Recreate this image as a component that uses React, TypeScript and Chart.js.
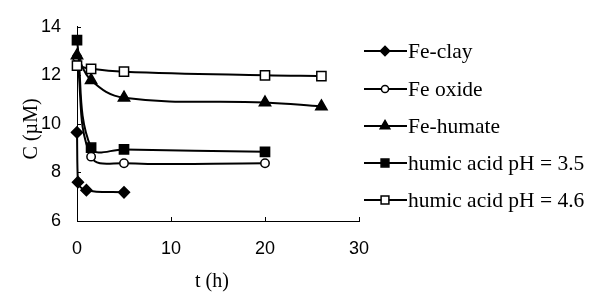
import React, { useEffect, useRef } from "react";
import { Chart, registerables } from "chart.js";

Chart.register(...registerables);

const seriesNames = ["Fe-clay", "Fe oxide", "Fe-humate", "humic acid pH = 3.5", "humic acid pH = 4.6"];

const feClayT = [0, 0.1, 1, 5];
const feClayC = [9.65, 7.6, 7.27, 7.18];

const feOxideT = [0, 1.5, 5, 20];
const feOxideC = [12.75, 8.65, 8.38, 8.38];

const feHumateT = [0, 1.5, 5, 20, 26];
const feHumateC = [12.82, 11.8, 11.08, 10.88, 10.72];

const humic35T = [0, 1.5, 5, 20];
const humic35C = [13.45, 9.02, 8.95, 8.85];

const humic46T = [0, 1.5, 5, 20, 26];
const humic46C = [12.4, 12.27, 12.15, 12.0, 11.97];

const xTicks = [0, 10, 20, 30];
const yTicks = [6, 8, 10, 12, 14];

type Marker = { style: string; radius: number; fill: string };
const markers: Marker[] = [
  { style: "rectRot", radius: 5.5, fill: "#000" },
  { style: "circle", radius: 4.2, fill: "#fff" },
  { style: "triangle", radius: 6.5, fill: "#000" },
  { style: "rect", radius: 6.5, fill: "#000" },
  { style: "rect", radius: 6.5, fill: "#fff" },
];

const toPts = (t: number[], c: number[]) => t.map((x, i) => ({ x, y: c[i] }));

function drawMarker(ctx: CanvasRenderingContext2D, m: Marker, x: number, y: number) {
  const r = m.radius;
  ctx.save();
  ctx.beginPath();
  if (m.style === "rectRot") {
    ctx.moveTo(x, y - r);
    ctx.lineTo(x + r, y);
    ctx.lineTo(x, y + r);
    ctx.lineTo(x - r, y);
    ctx.closePath();
  } else if (m.style === "circle") {
    ctx.arc(x, y, r, 0, Math.PI * 2);
  } else if (m.style === "triangle") {
    ctx.moveTo(x, y - r);
    ctx.lineTo(x + r * 0.87, y + r * 0.5);
    ctx.lineTo(x - r * 0.87, y + r * 0.5);
    ctx.closePath();
  } else {
    const s = r * Math.SQRT1_2;
    ctx.rect(x - s, y - s, 2 * s, 2 * s);
  }
  ctx.fillStyle = m.fill;
  ctx.fill();
  ctx.lineWidth = 1.5;
  ctx.strokeStyle = "#000";
  ctx.stroke();
  ctx.restore();
}

const customPlugin = {
  id: "custom",
  afterDraw(chart: any) {
    const ctx: CanvasRenderingContext2D = chart.ctx;
    const xs = chart.scales.x;
    const ys = chart.scales.y;
    const area = chart.chartArea;
    ctx.save();
    ctx.strokeStyle = "#000";
    ctx.lineWidth = 1;
    // inward ticks
    for (const v of yTicks) {
      const py = Math.round(ys.getPixelForValue(v)) + 0.5;
      ctx.beginPath();
      ctx.moveTo(area.left, py);
      ctx.lineTo(area.left + 4, py);
      ctx.stroke();
    }
    for (const v of xTicks) {
      const px = Math.round(xs.getPixelForValue(v)) + 0.5;
      ctx.beginPath();
      ctx.moveTo(px, area.bottom);
      ctx.lineTo(px, area.bottom - 4);
      ctx.stroke();
    }
    // axis titles
    ctx.fillStyle = "#000";
    ctx.font = '20px "Liberation Serif"';
    ctx.textAlign = "center";
    ctx.textBaseline = "middle";
    ctx.fillText("t (h)", 212, 282);
    ctx.save();
    ctx.translate(32, (area.top + area.bottom) / 2 + 5);
    ctx.rotate(-Math.PI / 2);
    ctx.fillText("C (\u00b5M)", 0, 0);
    ctx.restore();
    // legend
    ctx.textAlign = "left";
    ctx.font = '21.5px "Liberation Serif"';
    const rowY = [51, 89, 126, 163, 200];
    seriesNames.forEach((name, i) => {
      const y = rowY[i];
      ctx.beginPath();
      ctx.lineWidth = 2;
      ctx.moveTo(364, y);
      ctx.lineTo(407, y);
      ctx.stroke();
      drawMarker(ctx, { ...markers[i], radius: markers[i].radius * 0.85 }, 385, y);
      ctx.fillStyle = "#000";
      ctx.fillText(name, 408, y + 1);
    });
    ctx.restore();
  },
};

export default function App() {
  const ref = useRef<HTMLCanvasElement | null>(null);
  useEffect(() => {
    document.body.style.margin = "0";
    const canvas = ref.current!;
    const series = [
      toPts(feClayT, feClayC),
      toPts(feOxideT, feOxideC),
      toPts(feHumateT, feHumateC),
      toPts(humic35T, humic35C),
      toPts(humic46T, humic46C),
    ];
    const datasets = series.map((data, i) => ({
      label: seriesNames[i],
      data,
      order: series.length - 1 - i,
      borderColor: "#000",
      borderWidth: 2,
      tension: 0.4,
      clip: false,
      pointStyle: markers[i].style,
      pointRadius: markers[i].radius,
      pointBackgroundColor: markers[i].fill,
      pointBorderColor: "#000",
      pointBorderWidth: 1.5,
      fill: false,
    }));
    const chart = new Chart(canvas, {
      type: "line",
      data: { datasets },
      options: {
        animation: false,
        responsive: false,
        maintainAspectRatio: false,
        layout: { padding: { left: 0, right: 231, top: 21, bottom: 0 } },
        plugins: { legend: { display: false }, tooltip: { enabled: false } },
        scales: {
          x: {
            type: "linear",
            min: 0,
            max: 30,
            afterBuildTicks: (s: any) => {
              s.ticks = xTicks.map((v) => ({ value: v }));
            },
            afterFit: (s: any) => {
              s.height = 74;
            },
            grid: { display: true, drawOnChartArea: false, drawTicks: false },
            border: { display: true, color: "#000", width: 1 },
            ticks: {
              color: "#000",
              padding: 17,
              font: { family: '"Liberation Sans"', size: 18 },
            },
          },
          y: {
            type: "linear",
            min: 6,
            max: 14,
            afterBuildTicks: (s: any) => {
              s.ticks = yTicks.map((v) => ({ value: v }));
            },
            afterFit: (s: any) => {
              s.width = 77;
            },
            grid: { display: true, drawOnChartArea: false, drawTicks: false },
            border: { display: true, color: "#000", width: 1 },
            ticks: {
              color: "#000",
              padding: 16,
              font: { family: '"Liberation Sans"', size: 18 },
            },
          },
        },
      },
      plugins: [customPlugin],
    } as any);
    return () => chart.destroy();
  }, []);
  return <canvas ref={ref} width={590} height={295} style={{ display: "block", width: 590, height: 295 }} />;
}
